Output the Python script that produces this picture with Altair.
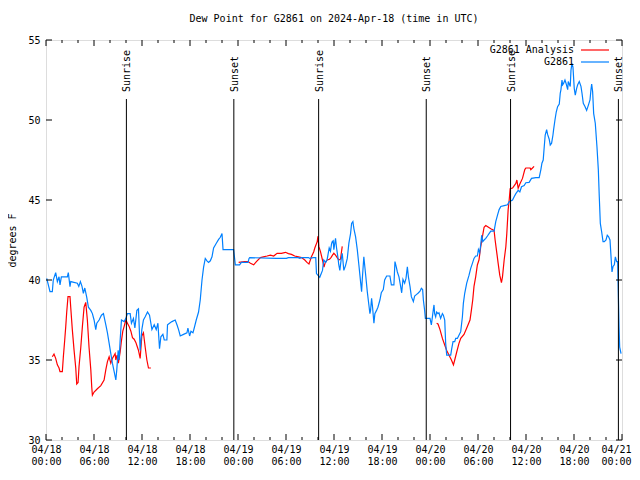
import altair as alt
import pandas as pd

# time in hours since 2024-04-18 00:00 UTC, dew point in degrees F
blue_obs = [
    (0.09, 40.1), (0.5, 39.27), (0.79, 39.27), (0.91, 40.0), (1.21, 40.46), (1.42, 39.9), (1.63, 40.2),
    (1.75, 39.69), (1.92, 40.2), (2.67, 40.2), (2.79, 40.46), (3.0, 39.58), (3.09, 39.9), (3.92, 39.8),
    (4.1, 39.6), (4.3, 39.9), (4.5, 39.6), (4.67, 39.17), (4.85, 39.5), (5.1, 38.9), (5.3, 38.3),
    (5.6, 38.1), (5.8, 37.9), (6.01, 37.5), (6.22, 36.9), (6.35, 37.3), (6.64, 37.5), (6.93, 37.8),
    (7.18, 37.9), (7.48, 37.2), (7.68, 36.7), (7.89, 36.05), (8.1, 35.4), (8.3, 34.8), (8.52, 34.27),
    (8.73, 33.75), (8.85, 34.4), (9.02, 35.6), (9.14, 35.0), (9.27, 36.25), (9.43, 37.5), (9.77, 37.4),
    (9.98, 37.6), (10.18, 37.9), (10.52, 37.9), (10.68, 37.3), (10.93, 37.6), (11.11, 37.0), (11.36, 38.1),
    (11.56, 38.2), (11.77, 35.6), (11.98, 36.9), (12.18, 37.5), (12.4, 37.7), (12.69, 38.0), (12.94, 37.8),
    (13.24, 36.9), (13.53, 37.2), (13.78, 36.9), (13.99, 37.3), (14.19, 35.7), (14.36, 36.45), (14.61, 36.6),
    (14.78, 36.25), (15.11, 36.25), (15.19, 37.2), (15.44, 37.3), (15.74, 37.4), (16.15, 37.5), (16.37, 37.2),
    (16.57, 36.9), (16.78, 36.5), (17.19, 36.6), (17.62, 36.7), (17.74, 37.0), (17.95, 36.5), (18.12, 36.8),
    (18.37, 36.7), (18.53, 37.0), (18.78, 37.5), (19.07, 38.0), (19.28, 38.75), (19.5, 40.0), (19.7, 40.8),
    (19.91, 41.35), (20.12, 41.2), (20.32, 41.1), (20.54, 41.2), (20.75, 41.45), (20.95, 42.0), (21.29, 42.3),
    (21.58, 42.54), (21.79, 42.67), (22.0, 42.9), (22.13, 41.9), (23.45, 41.9), (23.67, 40.94), (24.2, 40.94),
    (24.42, 41.1), (25.26, 41.1), (25.38, 41.35), (25.46, 41.4), (28.8, 41.35), (30.05, 41.35), (30.3, 41.4),
    (31.52, 41.4), (31.72, 41.35), (31.93, 41.4), (32.81, 41.4), (32.97, 41.35), (33.4, 41.4), (33.72, 41.4),
    (33.81, 40.4), (34.22, 40.17), (34.56, 40.6), (34.72, 41.25), (34.97, 41.1), (35.15, 41.3), (35.4, 42.0),
    (35.56, 41.8), (35.69, 42.25), (35.78, 42.4), (35.9, 42.45), (35.98, 41.9), (36.19, 42.6), (36.32, 42.0),
    (36.48, 41.45), (36.6, 40.94), (36.73, 40.6), (36.9, 41.3), (37.03, 41.67), (37.23, 40.6), (37.44, 40.9),
    (37.66, 41.35), (37.86, 42.3), (38.07, 42.9), (38.2, 43.54), (38.36, 43.65), (38.49, 43.2), (38.7, 42.7),
    (38.91, 41.9), (39.11, 40.94), (39.32, 39.9), (39.45, 39.27), (39.53, 40.0), (39.73, 41.45), (39.86, 40.8),
    (39.98, 40.2), (40.16, 39.27), (40.36, 38.44), (40.49, 37.9), (40.57, 38.1), (40.7, 38.85), (40.82, 38.3),
    (40.99, 37.3), (41.11, 37.9), (41.32, 38.1), (41.49, 38.3), (41.74, 38.75), (41.91, 39.2), (42.16, 39.4),
    (42.33, 40.0), (42.58, 40.25), (42.99, 40.25), (43.17, 39.7), (43.49, 39.7), (43.62, 41.15), (43.79, 40.8),
    (43.92, 40.5), (44.12, 40.2), (44.33, 39.6), (44.46, 39.2), (44.62, 40.04), (44.83, 39.8), (45.0, 40.1),
    (45.17, 40.83), (45.3, 40.2), (45.5, 39.6), (45.67, 38.96), (45.92, 38.65), (46.08, 39.0), (46.33, 39.1),
    (46.5, 39.17), (46.75, 39.3), (46.92, 39.48), (47.08, 39.4), (47.17, 38.75), (47.33, 38.1), (47.42, 37.6),
    (48.0, 37.6), (48.17, 37.2), (48.3, 37.7), (48.42, 38.17), (48.5, 38.44), (48.58, 37.9), (48.71, 37.7),
    (48.83, 38.0), (49.0, 37.9), (49.12, 37.95), (49.33, 37.6), (49.55, 37.9), (49.67, 37.8), (49.84, 37.5),
    (49.96, 36.04), (50.09, 35.3), (50.59, 35.3), (50.71, 35.7), (50.88, 36.15), (51.09, 36.15), (51.21, 36.35),
    (51.42, 36.35), (51.62, 36.55), (51.84, 36.77), (52.05, 37.7), (52.17, 38.54), (52.34, 39.17), (52.59, 39.8),
    (52.88, 40.3), (53.09, 40.73), (53.3, 41.04), (53.5, 41.35), (53.71, 41.5), (53.92, 41.5), (54.05, 41.9),
    (54.21, 41.7), (54.34, 42.2), (54.46, 42.8), (54.59, 42.4), (54.76, 42.5), (54.97, 42.6), (55.18, 42.75),
    (55.38, 42.9), (55.6, 43.06), (56.01, 43.06), (56.22, 43.65), (56.44, 44.06), (56.64, 44.4), (56.85, 44.6),
    (57.27, 44.65), (57.69, 44.7), (57.9, 44.9), (58.32, 45.0), (58.52, 45.2), (58.73, 45.4), (59.02, 45.6),
    (59.23, 45.5), (59.44, 45.83), (59.77, 45.9), (59.98, 46.08), (60.39, 46.1), (60.69, 46.35), (61.23, 46.4),
    (61.65, 46.4), (61.86, 46.9), (61.99, 47.3), (62.15, 47.5), (62.28, 48.33), (62.4, 49.06), (62.58, 49.4),
    (62.7, 49.1), (62.9, 48.8), (63.03, 48.44), (63.2, 48.55), (63.37, 49.06), (63.45, 49.4), (63.62, 50.0),
    (63.78, 50.5), (63.95, 50.83), (64.16, 51.0), (64.28, 51.67), (64.37, 51.9), (64.5, 52.5), (64.58, 52.2),
    (64.71, 52.3), (64.87, 52.5), (65.0, 52.3), (65.21, 51.9), (65.28, 52.4), (65.53, 52.1), (65.62, 53.1),
    (65.74, 53.54), (65.87, 53.3), (66.03, 51.98), (66.16, 51.56), (66.33, 51.98), (66.46, 52.2), (66.66, 52.4),
    (66.87, 52.1), (67.0, 51.67), (67.16, 51.04), (67.37, 50.85), (67.58, 50.6), (67.78, 50.9), (68.0, 51.25),
    (68.12, 51.9), (68.21, 52.25), (68.33, 51.77), (68.46, 50.4), (68.66, 49.8), (68.87, 48.33), (69.04, 46.9),
    (69.16, 45.2), (69.29, 43.54), (69.46, 43.0), (69.63, 42.4), (69.79, 42.4), (70.0, 42.5), (70.16, 42.8),
    (70.33, 42.7), (70.5, 42.5), (70.63, 41.45), (70.75, 40.5), (70.88, 40.85), (71.04, 40.95), (71.17, 41.45),
    (71.33, 41.15), (71.46, 41.15), (71.54, 39.17), (71.63, 37.1), (71.71, 35.8), (71.88, 35.4),
]

red_seg1 = [
    (0.79, 35.2), (1.0, 35.37), (1.21, 35.1), (1.42, 34.7), (1.63, 34.5), (1.75, 34.27), (2.04, 34.27),
    (2.17, 35.2), (2.34, 36.25), (2.47, 37.1), (2.59, 38.0), (2.75, 38.96), (3.0, 38.96), (3.09, 38.3),
    (3.29, 36.9), (3.51, 35.6), (3.72, 34.5), (3.84, 33.5), (4.01, 33.6), (4.13, 34.6), (4.35, 35.8),
    (4.55, 37.1), (4.76, 38.3), (4.97, 38.6), (5.17, 37.5), (5.38, 35.8), (5.6, 34.4), (5.72, 33.3),
    (5.8, 32.8), (6.01, 33.0), (6.42, 33.2), (6.85, 33.4), (7.26, 33.75), (7.48, 34.4), (7.68, 34.9),
    (7.89, 35.2), (8.1, 34.8), (8.3, 35.1), (8.52, 35.3), (8.64, 35.4), (8.73, 35.0), (8.89, 35.3),
    (9.05, 34.8), (9.27, 35.5), (9.43, 36.2), (9.6, 36.8), (9.77, 37.1), (9.98, 37.5), (10.18, 37.3),
    (10.39, 37.1), (10.61, 36.8), (10.81, 36.4), (11.02, 36.3), (11.23, 36.1), (11.43, 35.8), (11.56, 35.6),
    (11.77, 35.1), (11.98, 36.5), (12.18, 36.7), (12.4, 35.8), (12.61, 35.0), (12.81, 34.5), (13.11, 34.5),
]
red_seg2 = [
    (24.08, 41.1), (24.83, 41.15), (25.26, 41.15), (25.55, 41.05), (25.96, 40.95), (26.3, 41.15), (26.8, 41.4),
    (27.17, 41.45), (27.64, 41.5), (28.05, 41.55), (28.46, 41.5), (28.89, 41.67), (29.43, 41.67), (29.93, 41.73),
    (30.3, 41.65), (30.68, 41.6), (31.09, 41.5), (31.56, 41.45), (31.93, 41.4), (32.35, 41.25), (32.62, 41.1),
    (32.87, 41.0), (33.18, 41.45), (33.47, 41.77), (33.6, 42.0), (33.9, 42.4), (34.0, 42.75), (34.1, 42.1),
    (34.31, 41.77), (34.56, 41.25), (34.75, 40.8), (34.91, 41.1), (35.15, 41.25), (35.44, 41.3), (35.62, 41.4),
    (35.81, 41.55), (35.98, 41.67), (36.19, 41.55), (36.4, 41.4), (36.6, 41.25), (36.81, 41.3), (37.03, 42.1),
]
red_seg3 = [
    (48.83, 37.3), (49.0, 37.25), (49.25, 36.9), (49.55, 36.35), (49.84, 35.94), (50.09, 35.6), (50.38, 35.3),
    (50.68, 35.0), (50.93, 34.7), (51.09, 35.0), (51.34, 35.5), (51.62, 36.04), (51.84, 36.35), (52.25, 36.6),
    (52.67, 37.1), (53.0, 37.5), (53.17, 38.1), (53.34, 38.75), (53.5, 39.6), (53.71, 40.2), (53.92, 40.94),
    (54.12, 41.25), (54.34, 42.08), (54.55, 42.7), (54.76, 43.3), (54.97, 43.4), (55.6, 43.2), (56.01, 43.1),
    (56.14, 42.5), (56.35, 41.7), (56.52, 41.04), (56.72, 40.3), (56.93, 39.83), (57.06, 40.2), (57.27, 41.25),
    (57.48, 42.08), (57.6, 42.9), (57.77, 44.4), (57.9, 45.0), (58.02, 45.7), (58.32, 45.75), (58.73, 46.04),
    (58.86, 46.25), (59.02, 45.73), (59.23, 46.0), (59.56, 46.35), (59.85, 46.9), (59.98, 47.0), (60.52, 47.0),
    (60.6, 46.9), (60.81, 47.0), (61.01, 47.1),
]

event_hours = [10.05, 23.48, 34.08, 47.53, 58.07, 71.55]
event_labels = ["Sunrise", "Sunset", "Sunrise", "Sunset", "Sunrise", "Sunset"]

x_major = list(range(0, 73, 6))
x_minor = [h for h in range(0, 73, 2) if h % 6 != 0]
y_major = [30, 35, 40, 45, 50, 55]

legend_names = ["G2861 Analysis", "G2861"]
legend_colors = ["#ff0000", "#0080ff"]

TITLE = "Dew Point for G2861 on 2024-Apr-18 (time in UTC)"
FONT = "DejaVu Sans Mono"
W, H = 576, 400

blue_df = pd.DataFrame(blue_obs, columns=["t", "v"])
red_rows = []
for i, seg in enumerate([red_seg1, red_seg2, red_seg3]):
    for t, v in seg:
        red_rows.append({"t": t, "v": v, "seg": i})
red_df = pd.DataFrame(red_rows)
ev_df = pd.DataFrame({"t": event_hours, "label": event_labels})
xmaj_df = pd.DataFrame({"t": x_major})
xmin_df = pd.DataFrame({"t": x_minor})
ymaj_df = pd.DataFrame({"v": y_major})

xscale = alt.Scale(domain=[0, 72], nice=False, zero=False)
yscale = alt.Scale(domain=[30, 55], nice=False, zero=False)

label_expr = ("['04/' + (18 + floor(datum.value / 24)), "
              "(datum.value % 24 < 10 ? '0' : '') + (datum.value % 24) + ':00']")

X = alt.X("t:Q", scale=xscale,
          axis=alt.Axis(values=x_major, labelExpr=label_expr, title=None, ticks=False,
                        domain=False, grid=False, labelPadding=4, labelFlush=False,
                        labelOverlap=False, labelBound=False, labelLineHeight=12,
                        labelAlign={"condition": {"test": "datum.value >= 72", "value": "right"},
                                    "value": "center"},
                        labelOffset={"condition": {"test": "datum.value >= 72", "value": 9},
                                     "value": 0},
                        labelFont=FONT, labelFontSize=10, labelColor="black"))
Y = alt.Y("v:Q", scale=yscale,
          axis=alt.Axis(values=y_major, title="degrees F", ticks=False, domain=False,
                        grid=False, labelPadding=6, titlePadding=10,
                        labelFont=FONT, labelFontSize=10, labelColor="black",
                        titleFont=FONT, titleFontSize=10, titleFontWeight="normal",
                        titleColor="black"))

red = alt.Chart(red_df).mark_line(color=legend_colors[0], strokeWidth=1.2).encode(
    x=X, y=Y, detail="seg:N")
blue = alt.Chart(blue_df).mark_line(color=legend_colors[1], strokeWidth=1.2).encode(
    x=alt.X("t:Q", scale=xscale), y=alt.Y("v:Q", scale=yscale))

ev_rule = alt.Chart(ev_df).mark_rule(color="black", strokeWidth=1).encode(
    x=alt.X("t:Q", scale=xscale), y=alt.value(59), y2=alt.value(H))
ev_text = alt.Chart(ev_df).mark_text(
    angle=270, align="left", baseline="middle", font=FONT, fontSize=10, color="black", dy=1
).encode(x=alt.X("t:Q", scale=xscale), y=alt.value(52), text="label:N")

def xticks(df, length):
    bottom = alt.Chart(df).mark_rule(color="black").encode(
        x=alt.X("t:Q", scale=xscale), y=alt.value(H), y2=alt.value(H - length))
    top = alt.Chart(df).mark_rule(color="black").encode(
        x=alt.X("t:Q", scale=xscale), y=alt.value(0), y2=alt.value(length))
    return [bottom, top]

yt_left = alt.Chart(ymaj_df).mark_rule(color="black").encode(
    y=alt.Y("v:Q", scale=yscale), x=alt.value(0), x2=alt.value(6))
yt_right = alt.Chart(ymaj_df).mark_rule(color="black").encode(
    y=alt.Y("v:Q", scale=yscale), x=alt.value(W), x2=alt.value(W - 6))

legend_layers = []
for i, (name, col) in enumerate(zip(legend_names, legend_colors)):
    one = pd.DataFrame({"name": [name]})
    ypix = 10 + 12 * i
    legend_layers.append(alt.Chart(one).mark_text(
        align="right", baseline="middle", font=FONT, fontSize=10, color="black"
    ).encode(x=alt.value(528), y=alt.value(ypix), text="name:N"))
    legend_layers.append(alt.Chart(one).mark_rule(color=col, strokeWidth=1.2).encode(
        x=alt.value(535), x2=alt.value(563), y=alt.value(ypix)))

layers = [red, blue, ev_rule, ev_text] + xticks(xmaj_df, 6) + xticks(xmin_df, 3) + \
         [yt_left, yt_right] + legend_layers

chart = alt.layer(*layers).properties(
    width=W, height=H,
    title=alt.TitleParams(TITLE, font=FONT, fontSize=10, fontWeight="normal",
                          anchor="middle", offset=11, color="black"),
    autosize=alt.AutoSizeParams(type="none"),
    padding={"left": 38, "top": 32, "right": 10, "bottom": 26},
).configure_view(stroke="black", strokeWidth=1).configure(background="white")

chart.save("out.html", embed_options={"renderer": "svg", "actions": False})
